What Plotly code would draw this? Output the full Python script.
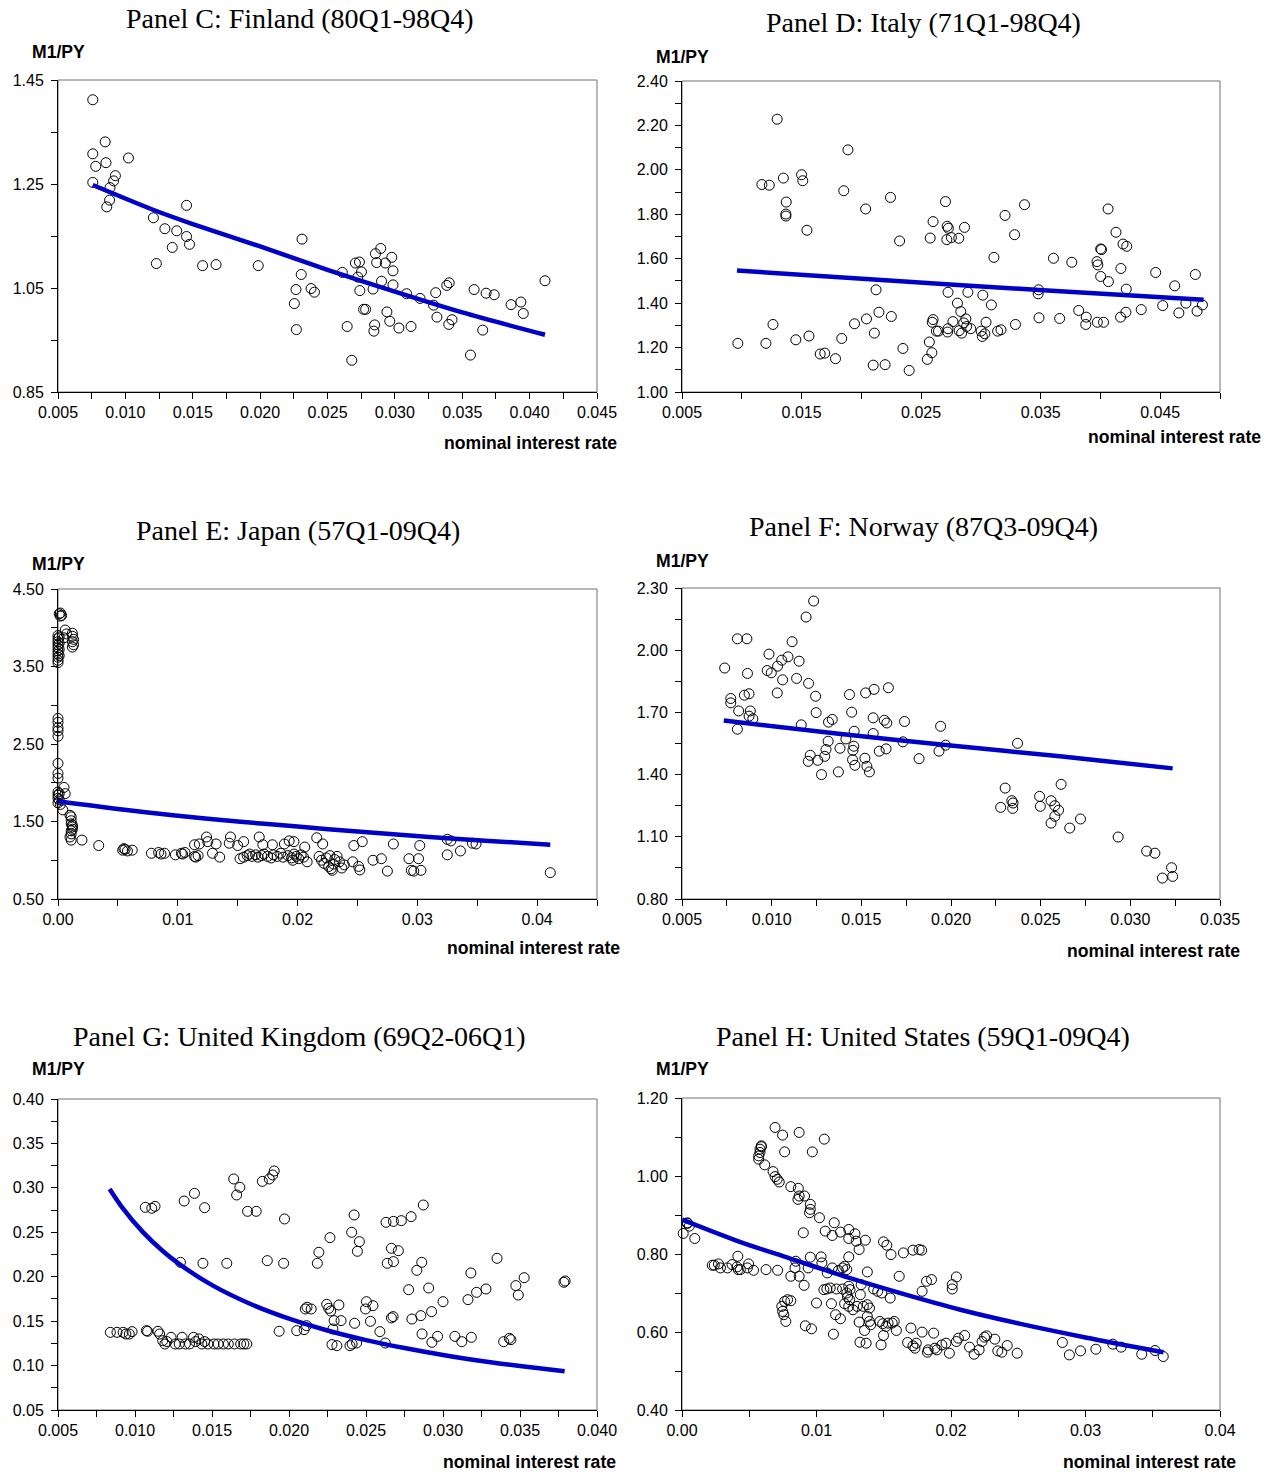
import plotly.graph_objects as go

# ---------------- data (nominal interest rate, M1/PY) ----------------
finland = [(0.00758,1.412),(0.0085,1.331),(0.00758,1.308),(0.01023,1.300),(0.00856,1.291),(0.0078,1.284),
 (0.00926,1.266),(0.00913,1.256),(0.00758,1.253),(0.00886,1.243),(0.00883,1.219),(0.00862,1.206),(0.01454,1.209),
 (0.01208,1.185),(0.01293,1.164),(0.01381,1.160),(0.01454,1.149),(0.01476,1.134),(0.01348,1.128),(0.0123,1.097),
 (0.01573,1.093),(0.01673,1.095),(0.01986,1.093),(0.02311,1.144),(0.02305,1.076),(0.02266,1.047),(0.02378,1.049),
 (0.02403,1.042),(0.02254,1.020),(0.02269,0.970),(0.0261,1.080),(0.02646,0.976),(0.0268,0.911),(0.02707,1.098),
 (0.02737,1.100),(0.02752,1.081),(0.02725,1.071),(0.0274,1.045),(0.02838,1.048),(0.02856,1.116),(0.02895,1.126),
 (0.02865,1.099),(0.02929,1.098),(0.02977,1.109),(0.02986,1.083),(0.02901,1.063),(0.02986,1.056),(0.02783,1.009),
 (0.02768,1.009),(0.02941,1.004),(0.02962,0.986),(0.0285,0.979),(0.02844,0.967),(0.0303,0.973),(0.0312,0.976),
 (0.03087,1.039),(0.03187,1.030),(0.03303,1.041),(0.03287,1.017),(0.03312,0.994),(0.03385,1.055),(0.03403,1.060),
 (0.03424,0.989),(0.034,0.980),(0.03561,0.921),(0.03588,1.047),(0.03677,1.040),(0.03737,1.037),(0.03652,0.969),
 (0.03862,1.018),(0.03935,1.023),(0.03953,1.001),(0.04114,1.064)]
finland_fit = [(0.00758,1.248),(0.012,1.201),(0.015,1.173),(0.020,1.130),(0.025,1.085),(0.030,1.043),
 (0.035,1.003),(0.04114,0.960)]

italy = [(0.01296,2.228),(0.01888,2.090),(0.01168,1.934),(0.0123,1.931),(0.01348,1.963),(0.0150,1.978),(0.0151,1.951),
 (0.01372,1.855),(0.01369,1.801),(0.01369,1.792),(0.01545,1.728),(0.01853,1.906),(0.02036,1.824),(0.02244,1.876),
 (0.0232,1.680),(0.02704,1.857),(0.0260,1.767),(0.02576,1.693),(0.02718,1.746),(0.02728,1.737),(0.02715,1.686),
 (0.02753,1.695),(0.02815,1.692),(0.02863,1.741),(0.03202,1.795),(0.03365,1.843),(0.03282,1.708),(0.03109,1.606),
 (0.03607,1.602),(0.0376,1.584),(0.03971,1.587),(0.03978,1.572),(0.04002,1.644),(0.04009,1.641),(0.04064,1.824),
 (0.0413,1.719),(0.04189,1.666),(0.0422,1.656),(0.04171,1.556),(0.04002,1.520),(0.04067,1.497),(0.04216,1.463),
 (0.04462,1.538),(0.04621,1.478),(0.04794,1.529),(0.03483,1.460),(0.03479,1.442),(0.02123,1.460),(0.02725,1.449),
 (0.02891,1.449),(0.03016,1.436),(0.03088,1.392),(0.02804,1.400),(0.02832,1.362),(0.03818,1.367),(0.03881,1.337),
 (0.03877,1.304),(0.03974,1.314),(0.04026,1.314),(0.04168,1.337),(0.04213,1.359),(0.04341,1.371),(0.04521,1.389),
 (0.04656,1.356),(0.04715,1.400),(0.04808,1.364),(0.04853,1.392),(0.03486,1.334),(0.03659,1.331),(0.03289,1.304),
 (0.00967,1.219),(0.01202,1.219),(0.01261,1.304),(0.01452,1.235),(0.01562,1.252),(0.01656,1.171),(0.01694,1.175),
 (0.01784,1.150),(0.01836,1.241),(0.01943,1.307),(0.02043,1.329),(0.02109,1.265),(0.02147,1.359),(0.02251,1.340),
 (0.02099,1.121),(0.02199,1.123),(0.02348,1.196),(0.0240,1.097),(0.02552,1.147),(0.0259,1.177),(0.02569,1.225),
 (0.0260,1.326),(0.02593,1.314),(0.02628,1.274),(0.02645,1.274),(0.02721,1.270),(0.02725,1.285),(0.02766,1.317),
 (0.02818,1.276),(0.02839,1.265),(0.02856,1.311),(0.02874,1.329),(0.02881,1.295),(0.02915,1.285),(0.03002,1.274),
 (0.03012,1.250),(0.03043,1.314),(0.03033,1.262),(0.0314,1.274),(0.03168,1.280)]
italy_fit = [(0.0096,1.547),(0.02137,1.505),(0.03521,1.458),(0.04863,1.415)]

japan = [(0.0001,4.18),(0.0002,4.19),(0.0003,4.16),(0.0002,4.15),
 (0.0,3.90),(0.0,3.86),(0.0,3.82),(0.0,3.78),(0.0,3.74),(0.0,3.70),(0.0,3.66),(0.0,3.62),(0.0,3.58),(0.0,3.55),
 (0.0001,3.88),(0.0001,3.80),(0.0001,3.72),(0.0001,3.64),(0.0006,3.97),(0.0005,3.87),(0.0007,3.92),
 (0.0012,3.93),(0.0012,3.89),(0.0013,3.85),(0.0012,3.82),(0.0013,3.78),(0.0012,3.75),
 (0.0,2.83),(0.0,2.78),(0.0,2.71),(0.0,2.67),(0.0,2.60),
 (0.0,2.25),(0.0,2.12),(0.0,2.06),(0.0,1.88),(0.0,1.84),(0.0,1.80),(0.0,1.74),(0.0001,1.86),(0.0001,1.78),
 (0.0005,1.94),(0.0006,1.86),(0.0004,1.65),(0.0002,1.72),
 (0.0010,1.58),(0.0011,1.56),(0.0011,1.51),(0.0011,1.47),(0.0012,1.43),(0.0011,1.38),(0.0011,1.34),(0.0010,1.30),
 (0.0011,1.26),(0.0012,1.40),(0.0012,1.45),(0.0020,1.26),(0.0034,1.19),
 (0.0054,1.13),(0.0056,1.14),(0.0058,1.12),(0.0055,1.15),(0.0062,1.13),
 (0.0078,1.09),(0.0084,1.10),(0.0086,1.08),(0.0089,1.09),(0.0098,1.07),(0.0103,1.09),(0.0106,1.10),(0.0104,1.08),
 (0.0114,1.05),(0.0117,1.06),(0.0115,1.04),
 (0.0114,1.20),(0.0118,1.21),(0.0124,1.30),(0.0125,1.24),(0.0132,1.21),(0.0144,1.30),(0.0143,1.22),(0.0155,1.24),
 (0.0150,1.19),(0.0129,1.09),(0.0135,1.04),
 (0.0152,1.02),(0.0155,1.04),(0.0158,1.06),(0.0160,1.08),(0.0162,1.05),(0.0165,1.07),(0.0167,1.04),(0.0170,1.06),
 (0.0172,1.08),(0.0175,1.05),(0.0178,1.03),(0.0180,1.07),(0.0183,1.05),(0.0186,1.09),(0.0188,1.04),
 (0.0168,1.30),(0.0171,1.20),(0.0179,1.20),(0.0189,1.21),(0.0197,1.24),(0.0206,1.17),(0.0193,1.25),
 (0.0192,1.06),(0.0195,1.03),(0.0197,1.08),(0.0199,1.05),(0.0201,1.02),(0.0203,1.07),(0.0205,1.04),(0.0196,1.00),
 (0.0208,0.98),(0.0216,1.29),(0.0221,1.21),
 (0.0218,1.05),(0.0220,1.00),(0.0222,0.96),(0.0224,1.03),(0.0226,0.92),(0.0228,0.89),(0.0229,0.87),(0.0230,0.95),
 (0.0231,1.01),(0.0233,1.05),(0.0235,0.98),(0.0237,0.90),(0.0227,1.06),
 (0.0239,0.94),(0.0246,0.98),(0.0247,1.19),(0.0254,1.24),(0.0251,0.92),(0.0252,0.875),(0.0263,1.00),(0.0270,1.02),
 (0.0275,0.86),(0.0280,1.21),(0.0293,1.02),(0.0295,0.87),(0.0301,1.02),(0.0302,1.19),(0.0303,0.87),(0.0297,0.86),
 (0.0325,1.27),(0.0328,1.25),(0.0325,1.07),(0.0336,1.12),(0.0346,1.22),(0.0349,1.21),(0.0411,0.84)]
japan_fit = [(0.0,1.76),(0.005,1.66),(0.01,1.575),(0.015,1.50),(0.02,1.435),(0.025,1.37),(0.031,1.30),
 (0.036,1.25),(0.0411,1.20)]

norway = [(0.00738,1.914),(0.00772,1.767),(0.00772,1.746),(0.00809,2.055),(0.00862,2.055),(0.00865,1.888),
 (0.00848,1.783),(0.00874,1.790),(0.00816,1.707),(0.00809,1.619),(0.00881,1.707),(0.00874,1.682),(0.00895,1.669),
 (0.00985,1.981),(0.00975,1.902),(0.00998,1.891),(0.01033,1.923),(0.01056,1.952),(0.01091,1.968),(0.01114,2.041),
 (0.01153,1.947),(0.01061,1.857),(0.01139,1.864),(0.01031,1.794),(0.01192,2.160),(0.01234,2.237),(0.01206,1.840),
 (0.01245,1.778),(0.01248,1.699),(0.01165,1.640),(0.01204,1.464),(0.01215,1.493),(0.01257,1.469),(0.01278,1.400),
 (0.01296,1.488),(0.01303,1.521),(0.01315,1.561),(0.01317,1.653),(0.01338,1.666),(0.01372,1.413),(0.01381,1.527),
 (0.01414,1.572),(0.01434,1.786),(0.01446,1.701),(0.01453,1.517),(0.01458,1.537),(0.0146,1.609),(0.01451,1.472),
 (0.01464,1.445),(0.01524,1.794),(0.01571,1.811),(0.01651,1.819),(0.01566,1.674),(0.01566,1.598),(0.0152,1.479),
 (0.01531,1.440),(0.01545,1.413),(0.0160,1.513),(0.01628,1.662),(0.01642,1.649),(0.01638,1.524),(0.01741,1.656),
 (0.01732,1.558),(0.01822,1.477),(0.01942,1.633),(0.01933,1.513),(0.0197,1.542),(0.02371,1.551),(0.02277,1.242),
 (0.02302,1.335),(0.02339,1.274),(0.02346,1.263),(0.02344,1.237),(0.02494,1.295),(0.02498,1.247),(0.02558,1.274),
 (0.02579,1.250),(0.0260,1.228),(0.02558,1.166),(0.02579,1.199),(0.02614,1.353),(0.02662,1.142),(0.02722,1.186),
 (0.02932,1.099),(0.03091,1.031),(0.03137,1.021),(0.0323,0.951),(0.03236,0.909),(0.03179,0.901)]
norway_fit = [(0.00733,1.661),(0.01361,1.598),(0.01984,1.542),(0.02607,1.488),(0.03236,1.430)]

uk = [(0.0084,0.1374),(0.00883,0.1374),(0.00923,0.1374),(0.00941,0.1355),(0.00963,0.1355),(0.00981,0.1382),
 (0.01074,0.1393),(0.01082,0.1386),(0.01149,0.1386),(0.0116,0.1355),(0.0118,0.128),(0.01194,0.1243),(0.01207,0.127),
 (0.01234,0.1318),(0.01261,0.1243),(0.01287,0.1243),(0.01306,0.1318),(0.01327,0.1243),(0.01354,0.1243),
 (0.0138,0.1318),(0.01394,0.127),(0.01415,0.1300),(0.01434,0.1243),(0.01452,0.127),(0.01473,0.1243),
 (0.01513,0.1243),(0.0154,0.1243),(0.01574,0.1243),(0.01606,0.1243),(0.01646,0.1243),(0.01686,0.1243),
 (0.01707,0.1243),(0.01726,0.1243),
 (0.01067,0.2781),(0.01109,0.2770),(0.0113,0.2792),(0.01319,0.2852),(0.01386,0.2938),(0.01452,0.2777),
 (0.01641,0.3100),(0.0166,0.2920),(0.01681,0.3006),(0.01731,0.2736),(0.01787,0.2736),(0.01827,0.3073),
 (0.01872,0.3100),(0.01894,0.3145),(0.01904,0.3190),(0.01971,0.2650),(0.01295,0.2162),(0.01441,0.2151),
 (0.01596,0.2151),(0.01859,0.2181),(0.01965,0.2151),(0.01936,0.1386),(0.0205,0.1393),(0.02098,0.1404),
 (0.02114,0.1449),(0.02106,0.1637),(0.02117,0.1656),(0.02144,0.1637),(0.02184,0.2151),(0.02194,0.2275),
 (0.02266,0.2440),(0.02245,0.1689),(0.02258,0.1644),(0.02271,0.1614),(0.02285,0.1412),(0.02293,0.1506),
 (0.02324,0.1682),(0.02338,0.1506),(0.02279,0.1236),(0.02311,0.1224),(0.02396,0.1224),(0.0241,0.1243),
 (0.02439,0.1254),(0.02426,0.1476),(0.02407,0.2500),(0.02423,0.2695),(0.02457,0.2395),(0.02444,0.2286),
 (0.02503,0.1719),(0.02497,0.1637),(0.02545,0.1674),(0.02529,0.1498),(0.0259,0.1382),(0.02625,0.1254),
 (0.0263,0.2612),(0.02678,0.2623),(0.02729,0.2631),(0.02793,0.2676),(0.02872,0.2807),(0.02638,0.2151),
 (0.02678,0.2170),(0.02665,0.2320),(0.0271,0.2293),(0.02665,0.1536),(0.02676,0.1551),(0.0283,0.2072),
 (0.02862,0.2162),(0.02777,0.1854),(0.02798,0.1524),(0.02856,0.1562),(0.02907,0.1873),(0.02926,0.1607),
 (0.02864,0.1356),(0.02928,0.1262),(0.02965,0.1329),(0.0300,0.1719),(0.03077,0.1329),(0.03122,0.1269),
 (0.03184,0.1318),(0.03162,0.1742),(0.03181,0.2042),(0.03218,0.1824),(0.03279,0.1862),(0.03351,0.2207),
 (0.03394,0.1269),(0.03431,0.1307),(0.03441,0.1292),(0.03473,0.1900),(0.03489,0.1794),(0.03527,0.1989),
 (0.03785,0.1937),(0.03793,0.1952)]
uk_fit = [(0.00835,0.2987),(0.00915,0.2784),(0.0105,0.2505),(0.0118,0.229),(0.01295,0.2133),(0.015,0.1905),
 (0.0175,0.1693),(0.020,0.1528),(0.0225,0.1395),(0.025,0.1287),(0.0275,0.1197),(0.030,0.1119),(0.0325,0.1052),
 (0.035,0.0994),(0.0379,0.0935)]

us = [(0.00692,1.1245),(0.00748,1.1048),(0.00871,1.1117),(0.01058,1.0945),(0.00763,1.0619),(0.00969,1.0619),
 (0.0059,1.0774),(0.0058,1.0688),(0.0058,1.0602),(0.0057,1.0516),(0.0057,1.0431),(0.0059,1.0750),
 (0.00615,1.0285),(0.00677,1.0113),(0.00692,0.9985),(0.00708,0.9916),(0.00723,0.9847),(0.00809,0.9727),
 (0.00865,0.9684),(0.00871,0.9487),(0.00862,0.9401),(0.00911,0.9487),(0.00954,0.9273),(0.00954,0.9144),
 (0.00948,0.9058),(0.01022,0.8930),(0.01065,0.8587),(0.01132,0.8801),(0.01117,0.8475),(0.01178,0.8561),
 (0.0124,0.8629),(0.0124,0.8398),(0.01286,0.8518),(0.01295,0.8329),(0.01317,0.8115),(0.01363,0.8355),
 (0.00902,0.8544),(0.01498,0.8312),(0.01523,0.8226),(0.01554,0.7986),(0.01646,0.8029),(0.01717,0.8098),
 (0.01763,0.8115),(0.01782,0.8098),(0.01615,0.7429),(0.01818,0.7300),(0.01855,0.7343),(0.01785,0.7043),
 (0.02009,0.7214),(0.02009,0.7103),(0.0204,0.7412),
 (0.00009,0.8527),(0.0004,0.8784),(0.00055,0.8716),(0.0004,0.8800),(0.00095,0.8398),
 (0.00225,0.7712),(0.0024,0.7712),(0.00271,0.7746),(0.00286,0.7643),(0.00338,0.7643),(0.00372,0.7729),
 (0.00415,0.7943),(0.00409,0.7669),(0.00418,0.7600),(0.00434,0.7600),(0.00486,0.7643),(0.00495,0.7746),
 (0.00532,0.7583),(0.00625,0.7600),(0.00711,0.7583),
 (0.00846,0.7815),(0.0084,0.7643),(0.00809,0.7429),(0.00871,0.7429),(0.00938,0.7643),(0.00954,0.7918),
 (0.01034,0.7926),(0.0104,0.7772),(0.0108,0.7515),(0.01117,0.7643),(0.01163,0.7575),(0.01194,0.7643),
 (0.01209,0.7686),(0.01225,0.7600),(0.0124,0.7926),(0.01378,0.7540),(0.01332,0.7214),(0.0124,0.7172),
 (0.00908,0.7197),(0.01055,0.7086),(0.01077,0.7103),(0.01102,0.7129),(0.01148,0.7103),(0.01194,0.7103),
 (0.01225,0.7000),(0.01249,0.7086),(0.01231,0.6897),(0.01246,0.6828),(0.01209,0.6725),(0.0124,0.6657),
 (0.01271,0.6571),(0.01302,0.6657),(0.01326,0.6957),(0.01348,0.6657),(0.01378,0.6700),(0.01394,0.6614),
 (0.01425,0.7103),(0.01455,0.7043),(0.01486,0.7000),(0.01548,0.6871),(0.0100,0.6743),(0.01111,0.6725),
 (0.01142,0.6443),(0.01178,0.6340),(0.01126,0.5945),
 (0.00742,0.6657),(0.00748,0.6528),(0.00757,0.6443),(0.00772,0.6271),(0.00763,0.6785),(0.00785,0.6828),
 (0.00809,0.6803),(0.00917,0.6159),(0.00963,0.6082),(0.01317,0.6254),(0.01357,0.6039),(0.01394,0.6271),
 (0.01378,0.6400),(0.01403,0.6185),(0.01471,0.6271),(0.01492,0.6211),(0.01517,0.6142),(0.01532,0.6228),
 (0.01563,0.6228),(0.01594,0.6040),(0.01578,0.6271),
 (0.01323,0.5739),(0.01369,0.5713),(0.0148,0.5670),(0.01498,0.5911),(0.01702,0.6100),(0.01677,0.5731),
 (0.01717,0.5645),(0.01732,0.5585),(0.01742,0.5713),(0.01785,0.5997),(0.01831,0.5542),(0.01825,0.5482),
 (0.01871,0.5971),(0.0188,0.5585),(0.01895,0.5542),(0.01932,0.5670),(0.01963,0.5713),(0.01988,0.5456),
 (0.0204,0.5756),(0.02055,0.5842),(0.02102,0.5911),(0.02138,0.5611),(0.02172,0.5430),(0.02209,0.5542),
 (0.02231,0.5756),(0.02249,0.5868),(0.02265,0.5902),(0.02326,0.5816),(0.02348,0.5516),(0.02378,0.5482),
 (0.02418,0.5653),(0.02492,0.5456),(0.02828,0.5731),(0.0288,0.5413),(0.02963,0.5516),(0.03077,0.5559),
 (0.03203,0.5688),(0.03265,0.5611),(0.03418,0.5430),(0.03517,0.5525),(0.03578,0.5371)]
us_fit = [(0.0,0.888),(0.0043,0.831),(0.008,0.789),(0.0125,0.738),(0.0165,0.697),(0.0207,0.657),(0.025,0.622),
 (0.030,0.586),(0.0358,0.548)]

titles = ["Panel C: Finland (80Q1-98Q4)", "Panel D: Italy (71Q1-98Q4)", "Panel E: Japan (57Q1-09Q4)",
          "Panel F: Norway (87Q3-09Q4)", "Panel G: United Kingdom (69Q2-06Q1)",
          "Panel H: United States (59Q1-09Q4)"]
y_label = "M1/PY"
x_label = "nominal interest rate"

# ---------------- layout geometry ----------------
W, H = 1278, 1475
def px(x): return x / W
def py(y): return 1 - y / H

panels = [
    dict(d=finland, f=finland_fit, xr=[0.005, 0.045], x0=0.005, xd=0.005, xm=0.0025, xf=".3f",
         yr=[0.85, 1.45], y0=0.85, yd=0.2, ym=0.1, xdom=(58, 597), ydom=(80, 392),
         tp=(300, 18), yl=(58, 52), xl=(619, 443)),
    dict(d=italy, f=italy_fit, xr=[0.005, 0.050], x0=0.005, xd=0.01, xm=0.005, xf=".3f",
         yr=[1.0, 2.4], y0=1.0, yd=0.2, ym=0.1, xdom=(682, 1220), ydom=(81, 392),
         tp=(923, 23), yl=(682, 57), xl=(1263, 437)),
    dict(d=japan, f=japan_fit, xr=[0.0, 0.045], x0=0.0, xd=0.01, xm=0.005, xf=".2f",
         yr=[0.5, 4.5], y0=0.5, yd=1.0, ym=0.5, xdom=(58, 597), ydom=(589, 899),
         tp=(298, 530), yl=(58, 564), xl=(622, 948)),
    dict(d=norway, f=norway_fit, xr=[0.005, 0.035], x0=0.005, xd=0.005, xm=0.0025, xf=".3f",
         yr=[0.8, 2.3], y0=0.8, yd=0.3, ym=0.15, xdom=(682, 1220), ydom=(588, 899),
         tp=(923, 527), yl=(682, 561), xl=(1242, 951)),
    dict(d=uk, f=uk_fit, xr=[0.005, 0.040], x0=0.005, xd=0.005, xm=0.0025, xf=".3f",
         yr=[0.05, 0.40], y0=0.05, yd=0.05, ym=0.025, xdom=(58, 597), ydom=(1099, 1410),
         tp=(299, 1036), yl=(58, 1069), xl=(618, 1462)),
    dict(d=us, f=us_fit, xr=[0.0, 0.04], x0=0.0, xd=0.01, xm=0.005, xf=".2f",
         yr=[0.4, 1.2], y0=0.4, yd=0.2, ym=0.1, xdom=(682, 1220), ydom=(1098, 1410),
         tp=(923, 1036), yl=(682, 1069), xl=(1238, 1462)),
]

TICKFONT = dict(family="Liberation Sans, Arial, sans-serif", size=16, color="black")
BOLDFONT = dict(family="Liberation Sans, Arial, sans-serif", size=17.6, color="black")
TITLEFONT = dict(family="Liberation Serif, Times New Roman, serif", size=28, color="black")

fig = go.Figure()
layout = dict(width=W, height=H, margin=dict(l=0, r=0, t=0, b=0, pad=0), paper_bgcolor="white",
              plot_bgcolor="white", showlegend=False, template="none")
annotations = []
shapes = []

for i, p in enumerate(panels, start=1):
    xa = "x" if i == 1 else f"x{i}"
    ya = "y" if i == 1 else f"y{i}"
    rs = [a for a, b in p["d"]]
    ms = [b for a, b in p["d"]]
    fig.add_trace(go.Scatter(x=rs, y=ms, mode="markers", xaxis=xa, yaxis=ya,
                             marker=dict(symbol="circle-open", size=10, color="black",
                                         line=dict(width=1, color="black")),
                             cliponaxis=False, hoverinfo="x+y"))
    fr = [a for a, b in p["f"]]
    fm = [b for a, b in p["f"]]
    fig.add_trace(go.Scatter(x=fr, y=fm, mode="lines", xaxis=xa, yaxis=ya,
                             line=dict(color="#0000c8", width=4.5, shape="spline", smoothing=0.8)))

    xkey = "xaxis" if i == 1 else f"xaxis{i}"
    ykey = "yaxis" if i == 1 else f"yaxis{i}"
    layout[xkey] = dict(domain=[px(p["xdom"][0]), px(p["xdom"][1])], anchor=ya, range=p["xr"],
                        automargin=False,
                        tick0=p["x0"], dtick=p["xd"], tickformat=p["xf"], ticks="outside", ticklen=6,
                        tickcolor="black", showline=True, linecolor="black", linewidth=1,
                        showgrid=False, zeroline=False, tickfont=TICKFONT,
                        minor=dict(dtick=p["xm"], tick0=p["x0"], ticks="outside", ticklen=6,
                                   tickcolor="black", showgrid=False))
    layout[ykey] = dict(domain=[py(p["ydom"][1]), py(p["ydom"][0])], anchor=xa, range=p["yr"],
                        automargin=False,
                        tick0=p["y0"], dtick=p["yd"], tickformat=".2f", ticks="outside", ticklen=6,
                        tickcolor="black", showline=True, linecolor="black", linewidth=1,
                        showgrid=False, zeroline=False, tickfont=TICKFONT, ticklabelstandoff=4,
                        minor=dict(dtick=p["ym"], tick0=p["y0"], ticks="outside", ticklen=6,
                                   tickcolor="black", showgrid=False))
    shapes.append(dict(type="rect", xref=f"{xa} domain", yref=f"{ya} domain", x0=0, x1=1, y0=0, y1=1,
                       line=dict(color="#707070", width=1), layer="below"))
    annotations.append(dict(text=titles[i - 1], x=px(p["tp"][0]), y=py(p["tp"][1]), xref="paper",
                            yref="paper", xanchor="center", yanchor="middle", showarrow=False,
                            font=TITLEFONT))
    annotations.append(dict(text=f"<b>{y_label}</b>", x=px(p["yl"][0]), y=py(p["yl"][1]), xref="paper",
                            yref="paper", xanchor="center", yanchor="middle", showarrow=False,
                            font=BOLDFONT))
    annotations.append(dict(text=f"<b>{x_label}</b>", x=px(p["xl"][0]), y=py(p["xl"][1]), xref="paper",
                            yref="paper", xanchor="right", yanchor="middle", showarrow=False,
                            font=BOLDFONT))

layout["annotations"] = annotations
layout["shapes"] = shapes
fig.update_layout(**layout)
fig.write_html("out.html", config={"displayModeBar": False},
               post_script="document.body.style.margin='0';document.documentElement.style.overflow='hidden';")
